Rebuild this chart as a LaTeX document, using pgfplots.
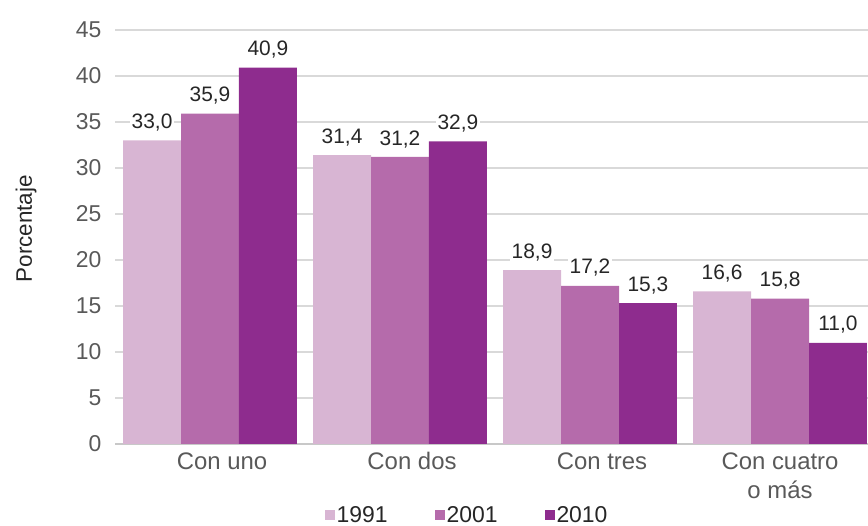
\documentclass[border=0pt]{standalone}
\usepackage{pgfplots}
\pgfplotsset{compat=1.18}
\usepackage{fontspec}
\setmainfont{Liberation Sans}
\definecolor{c1}{HTML}{D8B5D3}
\definecolor{c2}{HTML}{B56BAB}
\definecolor{c3}{HTML}{8E2C8E}
\definecolor{gridc}{HTML}{D9D9D9}
\definecolor{axc}{HTML}{C8C8C8}
\definecolor{tickc}{HTML}{595959}
\definecolor{txt}{HTML}{262626}
\pgfplotsset{sq/.style={legend image code/.code={\fill[##1] (0bp,-5bp) rectangle (10bp,5bp);}}}
\begin{document}
\begin{tikzpicture}
\useasboundingbox (0,0) rectangle (868bp,526bp);
\begin{axis}[
  at={(115bp,82bp)}, anchor=south west,
  scale only axis, width=753bp, height=414bp,
  ybar=0pt, bar width=0.305,
  xmin=-0.5, xmax=3.463, ymin=0, ymax=45,
  ytick={0,5,...,45},
  xtick={0,1,2,3}, xticklabels={\hspace*{24bp}Con uno, \hspace*{24bp}Con dos, \hspace*{24bp}Con tres, {Con cuatro\\o más}},
  axis x line=bottom, axis y line=left,
  y axis line style={draw=none},
  x axis line style={-, draw=axc, line width=1.6bp},
  major tick length=0pt,
  ymajorgrids, grid style={gridc, line width=1.3bp},
  /pgf/number format/assume math mode=true,
  yticklabel style={font=\fontsize{23}{27}\selectfont, text=tickc, xshift=-10bp},
  xticklabel style={font=\fontsize{24}{29}\selectfont, text=tickc, align=center, yshift=-5bp},
  ylabel={Porcentaje},
  ylabel style={at={(axis description cs:-0.118,0.52)}, anchor=center, font=\fontsize{22.5}{26}\selectfont, text=txt},
  nodes near coords={\pgfmathprintnumber[fixed,fixed zerofill,precision=1,use comma,assume math mode=true]{\pgfplotspointmeta}},
  every node near coord/.append style={font=\fontsize{21}{25}\selectfont, text=txt, fill=white, inner sep=2bp, yshift=7bp},
  legend columns=3,
  legend style={draw=none, fill=none, at={(0.4675,-0.1715)}, anchor=center, font=\fontsize{23}{27}\selectfont, text=txt,
    /tikz/every even column/.append style={column sep=45bp}},
]
\addplot[sq, fill=c1, draw=none] coordinates {(0,33.0) (1,31.4) (2,18.9) (3,16.6)};
\addplot[sq, fill=c2, draw=none] coordinates {(0,35.9) (1,31.2) (2,17.2) (3,15.8)};
\addplot[sq, fill=c3, draw=none] coordinates {(0,40.9) (1,32.9) (2,15.3) (3,11.0)};
\legend{1991,2001,2010}
\end{axis}
\end{tikzpicture}
\end{document}
